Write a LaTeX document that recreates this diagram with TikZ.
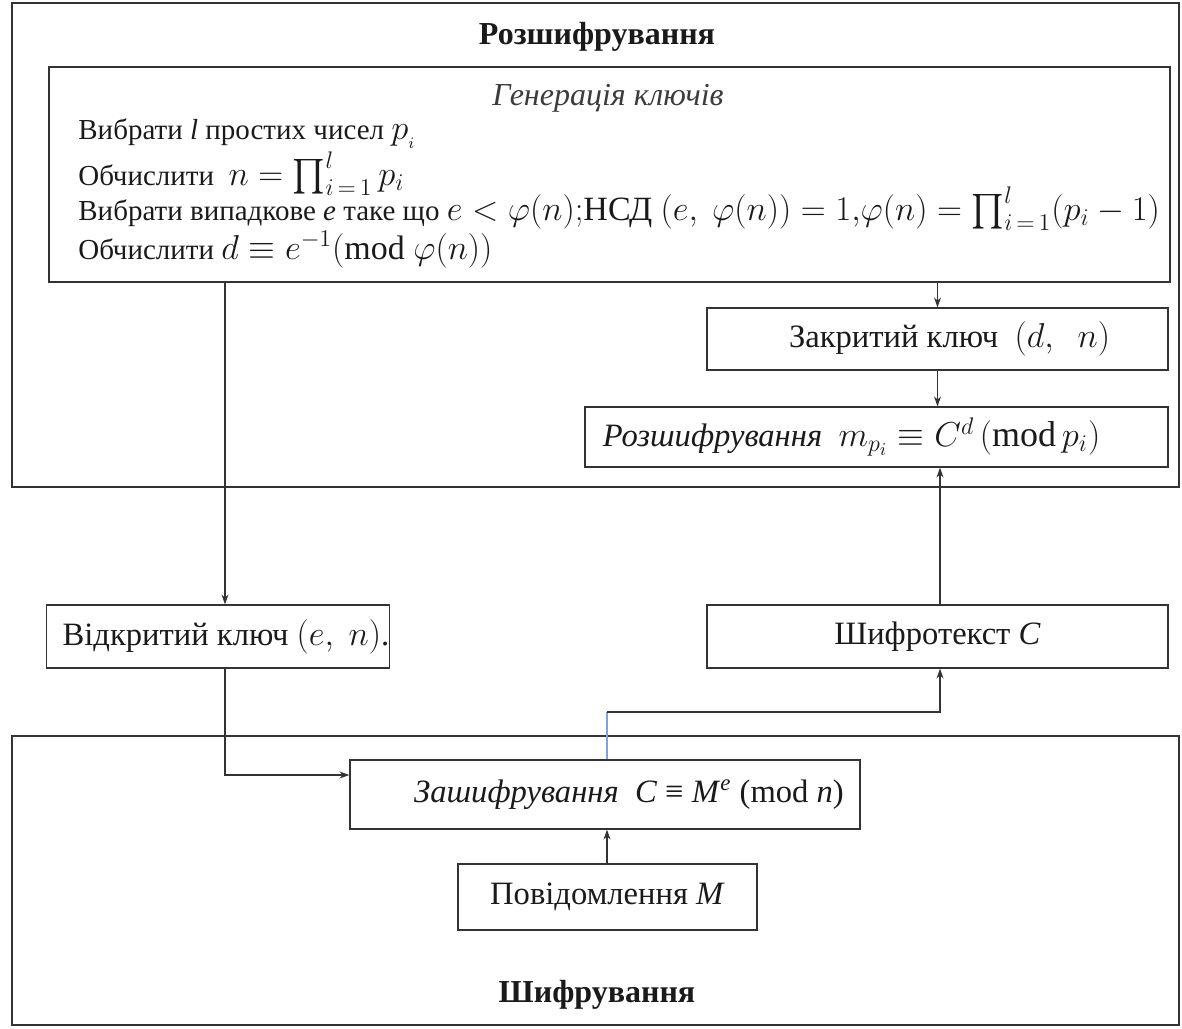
\documentclass[tikz,border=0pt]{standalone}
\usepackage{amsmath}
\usepackage{fontspec}
\setmainfont{Liberation Serif}
\usetikzlibrary{arrows.meta}
\definecolor{ln}{HTML}{333333}
\definecolor{bl}{HTML}{7FA3DC}
\definecolor{tx}{HTML}{1A1A1A}
\newcommand{\bodyf}{\fontsize{14.5}{16}\selectfont}
\newcommand{\boxf}{\fontsize{16.3}{18}\selectfont}
\newcommand{\mathf}{\fontsize{17}{19}\selectfont}
\newcommand{\mathb}{\fontsize{18}{20}\selectfont}
\begin{document}
\begin{tikzpicture}[x=0.5pt,y=-0.5pt,
  box/.style={draw=ln, line width=0.6pt, inner sep=0pt, text=tx},
  arr/.style={draw=ln, line width=0.6pt, -{Stealth[length=5pt,width=3.5pt]}},
  ttl/.style={font=\fontsize{16}{18}\selectfont\bfseries, text=tx},
  gl/.style={anchor=west, inner sep=0pt, font=\bodyf, text=tx}]
\useasboundingbox (0,0) rectangle (1182,1028);
% outer frames
\node[box, minimum width=583.5pt, minimum height=242pt] (dec) at (595.5,245) {};
\node[box, minimum width=583.5pt, minimum height=144.5pt] (enc) at (595.5,880.5) {};
\node[ttl] (dect) at (597,37) {Розшифрування};
\node[ttl] (enct) at (597,995) {Шифрування};
% key generation
\node[box, minimum width=560.5pt, minimum height=107.5pt] (gen) at (609.5,174.5) {};
\node[inner sep=0pt, font=\fontsize{16}{18}\selectfont\itshape, text=tx!85] (gent) at (608,98) {Генерація ключів};
\node[gl] (g1) at (78,132) {Вибрати \textit{l} простих чисел {\mathf\smash{$p_{_i}$}}};
\node[gl] (g2) at (78,175) {Обчислити \ {\mathf\smash{$n=\prod_{i\,=\,1}^{l}p_i$}}};
\node[gl] (g3) at (78,213) {Вибрати випадкове \textit{e} таке що {\mathf\smash{$e<\varphi(n);$НСД $(e,\ \varphi(n))=1,\!\varphi(n)=\prod_{i\,=\,1}^{l}(p_i-1)$}}};
\node[gl] (g4) at (78,249) {Обчислити {\mathf\smash{$d\equiv e^{-1}(\mathrm{mod}\ \varphi(n))$}}};
% decryption boxes
\node[box, minimum width=230.5pt, minimum height=31pt, font=\boxf] (zak) at (937.5,339) {\hspace{12pt}Закритий ключ \ {\mathb$(d,\ \ n)$}};
\node[box, minimum width=291.5pt, minimum height=30pt, font=\boxf] (roz) at (876.5,437) {\textit{Розшифрування} \ {\mathb$m_{p_i}\equiv C^d\,(\mathrm{mod}\,p_i)$}\kern25pt\mbox{}};
% middle boxes
\node[box, minimum width=169pt, minimum height=31.5pt, font=\boxf] (vid) at (218,636.5) {\hspace{8pt}Відкритий ключ {\mathb$(e,\ n)$}.};
\node[box, minimum width=230.5pt, minimum height=31.5pt, font=\boxf] (shy) at (937.5,636.5) {Шифротекст \textit{C}};
% encryption boxes
\node[box, minimum width=255pt, minimum height=34.5pt, font=\boxf] (zas) at (605,794.5) {\hspace{24pt}\textit{Зашифрування} \ \textit{C} ≡ \textit{M}\textsuperscript{\textit{e}} (mod \textit{n})};
\node[box, minimum width=149.5pt, minimum height=33pt, font=\boxf] (pov) at (607.5,897) {Повідомлення \textit{M}};
% helper coordinates
\coordinate (kx) at (225,0);
\coordinate (ky) at (0,775);
\coordinate (bx) at (607,0);
\coordinate (by) at (0,712);
\coordinate (sx) at (940,0);
% connectors
\draw[arr] (gen.south -| zak) -- (zak.north);
\draw[arr] (zak.south) -- (zak.south |- roz.north);
\draw[arr] (gen.south -| kx) -- (vid.north -| kx);
\draw[arr] (vid.south -| kx) |- (zas.west |- ky);
\draw[arr] (shy.north -| sx) -- (roz.south -| sx);
\draw[arr] (pov.north -| bx) -- (zas.south -| bx);
\draw[draw=bl, line width=0.6pt] (zas.north -| bx) -- (bx |- by);
\draw[arr] (bx |- by) -| (shy.south -| sx);
\end{tikzpicture}
\end{document}
